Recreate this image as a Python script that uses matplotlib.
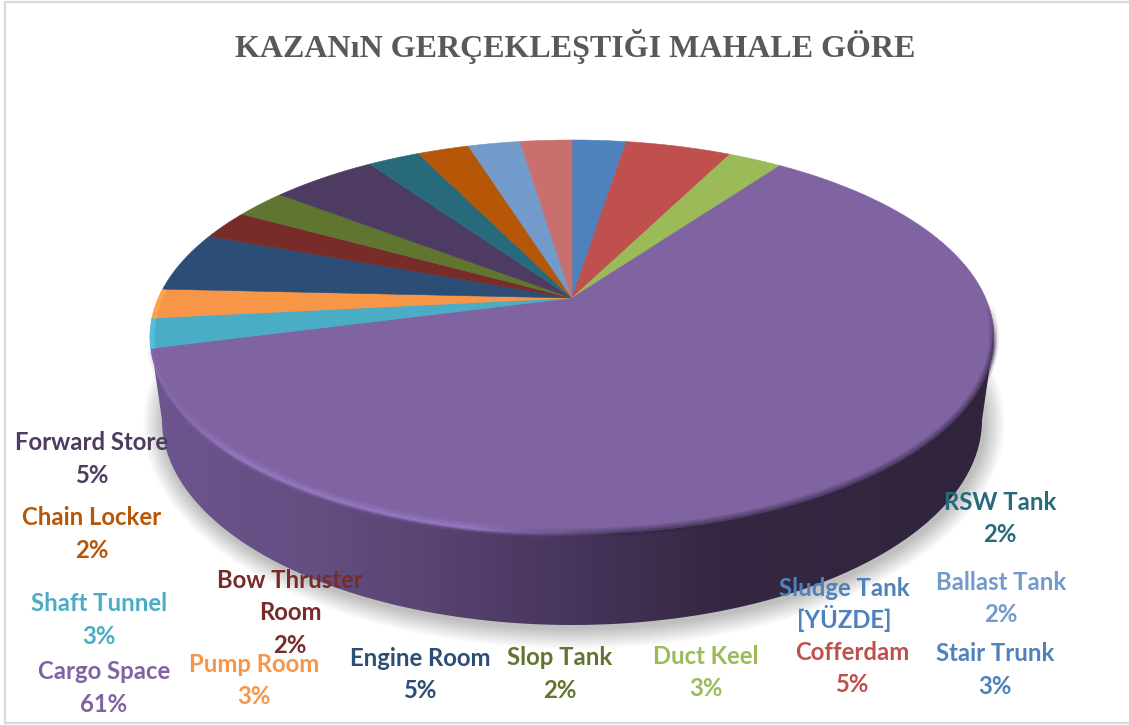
import numpy as np
import matplotlib
matplotlib.use("Agg")
import matplotlib.pyplot as plt
from matplotlib.patches import Ellipse, Polygon, Rectangle
from matplotlib.collections import LineCollection
from matplotlib.colors import LinearSegmentedColormap

# ---------- data (clockwise from 12 o'clock) ----------
categories = ["Stair Trunk", "Cofferdam", "Duct Keel", "Cargo Space", "Shaft Tunnel", "Pump Room",
              "Engine Room", "Bow Thruster\nRoom", "Slop Tank", "Forward Store", "RSW Tank",
              "Chain Locker", "Ballast Tank", "Sludge Tank\n[YÜZDE]"]
values = [2.5, 4.9, 2.5, 60.9, 2.4, 2.4, 4.9, 2.4, 2.4, 4.9, 2.4, 2.4, 2.4, 2.4]
value_labels = ["3%", "5%", "3%", "61%", "3%", "3%", "5%", "2%", "2%", "5%", "2%", "2%", "2%", ""]
slice_colors = ["#4f81bd", "#c0504d", "#9bbb59", "#8064a2", "#4bacc6", "#f79646", "#2c4d75",
                "#772c2a", "#5f7530", "#4d3b62", "#276a7c", "#b65708", "#729aca", "#c9706e"]
label_colors = ["#4f81bd", "#c0504d", "#9bbb59", "#8064a2", "#4bacc6", "#f79646", "#2c4d75",
                "#772c2a", "#5f7530", "#4d3b62", "#276a7c", "#b65708", "#729aca", "#4f81bd"]
label_xy = [(995, 653), (852, 652), (706, 656), (104, 671), (99, 603), (254, 664),
            (420, 658), (290, 580), (560, 657), (92, 442), (1000, 502), (92, 517), (1001, 582), (844, 588)]
title = "KAZANıN GERÇEKLEŞTIĞI MAHALE GÖRE"

# ---------- pie geometry (pixel space) ----------
CX, CY = 572, 298
A, B, K = 413.6, 189.3, 0.198

def proj(theta):
    """Perspective projection of a unit-circle point (clockwise angle from top)."""
    x, y = np.sin(theta), np.cos(theta)
    d = 1 + K * y
    return CX + A * x / d, CY - B * y / d

fig = plt.figure(figsize=(11.29, 7.25), dpi=100)
ax = fig.add_axes([0, 0, 1, 1])
ax.set_xlim(0, 1129)
ax.set_ylim(725, 0)
ax.axis("off")

ax.add_patch(Rectangle((5, 2), 1130, 721, fc="white", ec="#d9d9d9", lw=1.6, zorder=0))

# soft shadow
BOT = (572, 420, 410, 205)
for i in range(16):
    g = 16 - i
    ax.add_patch(Ellipse((BOT[0] + 2, BOT[1] + 3), 2 * (BOT[2] + g * 1.3), 2 * (BOT[3] + g * 1.3),
                         fc="#000000", ec="none", alpha=0.016, zorder=1))

# side wall with horizontal gradient
t = np.linspace(0, np.pi, 300)
top_x, top_y = 572 + 422 * np.cos(t), 337 + 197 * np.sin(t)
bot_x, bot_y = BOT[0] + BOT[2] * np.cos(t), BOT[1] + BOT[3] * np.sin(t)
side = np.column_stack([np.r_[top_x, bot_x[::-1]], np.r_[top_y, bot_y[::-1]]])
side_cmap = LinearSegmentedColormap.from_list(
    "side", [(0, "#6d5590"), (0.2, "#644d80"), (0.35, "#57426f"), (0.5, "#46355c"),
             (0.68, "#352741"), (1, "#30243c")])
im = ax.imshow(np.linspace(0, 1, 512)[None, :], extent=(150, 995, 725, 0), cmap=side_cmap,
               aspect="auto", zorder=2, vmin=0, vmax=1)
clip = Polygon(side, closed=True, transform=ax.transData, fc="none", ec="none")
ax.add_patch(clip)
im.set_clip_path(clip)
ax.set_xlim(0, 1129)
ax.set_ylim(725, 0)

# top face slices
edges = np.r_[0, np.cumsum(values)] / np.sum(values) * 2 * np.pi
for i, col in enumerate(slice_colors):
    th = np.linspace(edges[i], edges[i + 1], 120)
    x, y = proj(th)
    ax.fill(np.r_[CX, x], np.r_[CY, y], fc=col, ec=col, lw=0.4, zorder=3)

# lighter rim on the two slices at the far left
for i, rim_col in [(4, "#55c4e4"), (5, "#ffa64f")]:
    th = np.linspace(edges[i], edges[i + 1], 60)
    x, y = proj(th)
    ax.plot(x + 2, y + 0.5, color=rim_col, lw=3.5, alpha=0.8, zorder=4, solid_capstyle="butt")

# rim bevel of the big slice, lower edge only
th = np.radians(np.linspace(92, np.degrees(edges[4]) - 1, 500))
x, y = proj(th)
pts = np.column_stack([x, y])
segs = np.stack([pts[:-1], pts[1:]], axis=1)
mx = (x[:-1] + x[1:]) / 2
mth = np.degrees((th[:-1] + th[1:]) / 2)
for lw, al, off in [(7, 0.16, -1), (4.5, 0.26, -1), (2.5, 0.42, 0)]:
    rgba = np.zeros((len(mx), 4))
    w = np.clip((620 - mx) / 150, 0, 1)[:, None]
    fade = np.clip((mx - 150) / 90, 0.25, 1) * np.clip((mth - 92) / 14, 0, 1)
    rgba[:, :3] = w * np.array([0.62, 0.51, 0.82]) + (1 - w) * np.array([0.2, 0.15, 0.26])
    rgba[:, 3] = al * fade
    ax.add_collection(LineCollection(segs + [0, off], colors=rgba, linewidths=lw, zorder=4, capstyle="butt"))

# labels: one text per line so the pitch stays even
PITCH = 32.5
style = dict(family="Lato", fontweight="bold", fontsize=17.2, ha="center", va="baseline", zorder=6)
for name, val, col, (lx, ly) in zip(categories, value_labels, label_colors, label_xy):
    lines = name.split("\n") + ([val] if val else [])
    for j, line in enumerate(lines):
        ax.text(lx, ly + 8 + j * PITCH, line, color=col, **style)

ax.text(575, 46, title, family="Liberation Serif", fontweight="bold", fontsize=23, color="#595959",
        ha="center", va="center", zorder=6)

fig.savefig("out.png", dpi=100)
